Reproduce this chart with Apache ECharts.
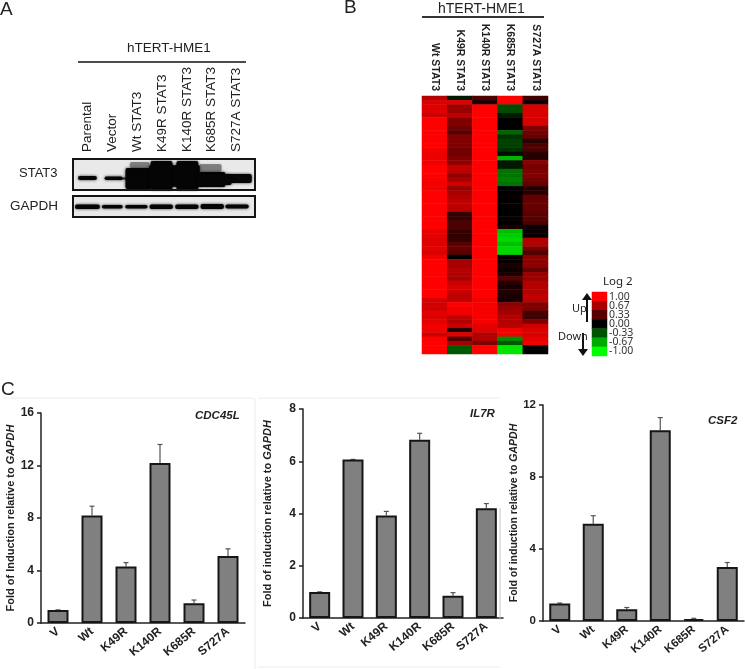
<!DOCTYPE html>
<html><head><meta charset="utf-8">
<style>html,body{margin:0;padding:0;background:#fff}#c{width:745px;height:669px;filter:blur(0.45px)}</style>
<script src="https://cdn.jsdelivr.net/npm/echarts@6/dist/echarts.min.js"></script>
</head><body><div id="c"></div>
<script>
const laneLabels = ['Parental','Vector','Wt STAT3','K49R STAT3','K140R STAT3','K685R STAT3','S727A STAT3'];
// [lane, low, high, half lane spread, density, lane shift]
const stat3Bands = [[0,11,15,.38,1,0],[1,11,14.5,.36,1,.05],[1,11.5,13.5,.2,.8,.5],
 [2,2,23,.52,1,.05],[2,23,29,.4,.4,.1],[3,1,30,.44,1,-.02],[3,4,26,.52,1,0],[4,1,30,.44,1,.02],[4,4,26,.52,1,0],
 [5,4,19,.55,1,0],[5,19,27,.45,.4,-.05],[6,8,17,.56,1,.05],[5.0,6,16,.7,1,.1]];
const gapdhBands = [[0,8,12.5,.5,1,0],[1,8.5,12,.42,1,0],[2,8.5,12,.45,1,-.03],[3,8,12.5,.47,1,-.03],[4,8,12.5,.47,1,0],[5,8,13,.47,1,.02],[6,8.5,12.5,.47,1,.02]];

const heatColumns = ['Wt STAT3','K49R STAT3','K140R STAT3','K685R STAT3','S727A STAT3'];
const heatWt = [.7,.87,.87,.87,.8,1,1,1,1,1,1,1,.95,.93,.93,.95,1,1,1,.97,.95,.95,1,1,1,1,1,1,1,1,1,.9,.9,.88,.88,.9,.85,.95,1,1,1,1,1,1,1,1,1,.85,.82,.82,.9,.85,.9,.95,.95,.8,1,1,1,1];
const heatK49 = [-.1,.87,.6,.6,.75,.5,.5,.45,.33,.5,.5,.5,.45,.45,.5,.55,.75,.75,.55,.65,.8,.6,.65,.7,.75,.75,.72,.2,.2,.3,.3,.2,.2,.2,.35,.4,.35,0,.65,.65,.7,.7,.65,.8,.85,.8,.75,.75,1,.95,.95,.75,.7,.8,.15,.9,.3,.65,-.35,-.35];
const heatK140 = [.3,.1,1,1,1,1,1,1,1,1,1,1,1,1,1,1,1,1,1,1,1,1,1,1,1,1,1,1,1,1,1,1,1,1,1,1,1,1,1,1,1,1,1,1,1,1,1,.95,.97,.97,.97,.97,.97,.9,.88,.7,.7,.5,1,1];
const heatK685 = [1,1,-.3,-.3,-.1,0,0,0,-.4,-.2,-.25,-.25,-.2,-.05,-.7,-.1,-.1,-.45,-.45,-.5,-.45,0,0,.03,0,.02,0,0,.03,0,.1,-.75,-.8,-.85,-.75,-.85,-.85,.03,.03,.1,.05,.1,.35,.15,.08,.15,.1,.08,.55,.6,.65,.7,.7,.72,.95,.95,-.55,-.35,-.9,-.9];
const heatS727 = [.25,.05,.85,.85,.85,.85,.85,.5,.45,.4,.15,.3,.3,.15,.15,.55,.45,.5,.5,.45,.4,.15,.15,.4,.4,.4,.4,.35,.35,.3,.05,.03,.03,.7,.7,.5,.3,.55,.55,.55,.4,.6,.6,.7,.7,.7,.75,.75,.5,.5,.25,.25,.5,.8,.85,.85,.9,.95,0,0];
const heatSeries = [heatWt,heatK49,heatK140,heatK685,heatS727];
const legendLabels = ['1.00','0.67','0.33','0.00','-0.33','-0.67','-1.00'];
const legendValues = [1,.67,.33,0,-.33,-.67,-1];

const barCats = ['V','Wt','K49R','K140R','K685R','S727A'];
const cdcValues = [1,8.2,4.3,12.2,1.5,5.1];
const cdcTops   = [1,8.9,4.6,13.6,1.75,5.65];
const il7Values = [1,6.07,3.92,6.82,.85,4.2];
const il7Tops   = [1,6.07,4.08,7.07,.97,4.38];
const csfValues = [.97,5.4,.65,10.6,.1,3];
const csfTops   = [1,5.85,.75,11.3,.15,3.25];

const SANS = '"Liberation Sans", Arial, sans-serif';
const grid = [], xAxis = [], yAxis = [], series = [], graphic = [];

function txt(x,y,s,size,o){graphic.push({type:'text',x,y,z:20,style:Object.assign({text:s,font:`${o&&o.weight||'normal'} ${size}px ${o&&o.family||SANS}`,fill:'#222',textAlign:'left',textVerticalAlign:'middle'},o&&o.style)});}
function line(x1,y1,x2,y2,c,w){graphic.push({type:'line',z:1,shape:{x1,y1,x2,y2},style:{stroke:c,lineWidth:w}});}

function bandItem(params,api){
  const lane=api.value(0), bw=api.size([1,0])[0];
  const a=api.coord([lane,api.value(2)]), b=api.coord([lane,api.value(1)]);
  const cx=a[0]+api.value(5)*bw, half=api.value(3)*bw, d=api.value(4);
  return {type:'rect',shape:{x:cx-half,y:a[1],width:half*2,height:b[1]-a[1],r:2},
    style:{fill:`rgba(5,5,5,${d})`,shadowBlur:3,shadowColor:`rgba(0,0,0,${d*.8})`}};
}
function blot(top,h,ymax,bands,showLabels){
  const i=grid.length;
  grid.push({left:75,top,width:174,height:h});
  xAxis.push({gridIndex:i,type:'category',position:'top',data:laneLabels,axisLine:{show:false},axisTick:{show:false},
    axisLabel:{show:showLabels,rotate:90,interval:0,margin:6,fontFamily:SANS,fontSize:13.5,color:'#222'}});
  yAxis.push({gridIndex:i,type:'value',min:0,max:ymax,show:false,splitLine:{show:false}});
  series.push({type:'custom',xAxisIndex:i,yAxisIndex:i,clip:false,z:3,renderItem:bandItem,data:bands});
}
blot(158,33,33,stat3Bands,true);
blot(196,21,21,gapdhBands,false);
[[73,159,182,31],[73,196,182,21]].forEach(r=>{
  graphic.push({type:'rect',z:0,shape:{x:r[0],y:r[1],width:r[2],height:r[3]},style:{fill:'#e9e9e9'}});
  graphic.push({type:'rect',z:10,shape:{x:r[0],y:r[1],width:r[2],height:r[3]},style:{fill:null,stroke:'#151515',lineWidth:2}});
});

// heatmap
const hi=grid.length;
grid.push({left:422,top:96,width:126,height:258});
const rowIdx=heatWt.map((_,i)=>i);
xAxis.push({gridIndex:hi,type:'category',position:'top',data:heatColumns,axisLine:{show:false},axisTick:{show:false},
  axisLabel:{rotate:90,interval:0,margin:5,fontFamily:SANS,fontWeight:'bold',fontSize:10.5,color:'#222'}});
yAxis.push({gridIndex:hi,type:'category',inverse:true,data:rowIdx,show:false});
const heatData=[];heatSeries.forEach((col,c)=>col.forEach((v,r)=>heatData.push([c,r,v])));
series.push({type:'heatmap',xAxisIndex:hi,yAxisIndex:hi,data:heatData,progressive:0,animation:false});
const heatSeriesIndex=series.length-1;

// colour key
const li=grid.length;
grid.push({left:592,top:292,width:15,height:64});
xAxis.push({gridIndex:li,type:'category',data:['Log 2'],show:false});
yAxis.push({gridIndex:li,type:'category',inverse:true,data:legendLabels,axisLine:{show:false},axisTick:{show:false},position:'right',
  axisLabel:{interval:0,margin:2,fontFamily:'"Noto Sans", sans-serif',fontSize:10.5,color:'#333',padding:[5,0,0,0],lineHeight:10}});
series.push({type:'heatmap',xAxisIndex:li,yAxisIndex:li,data:legendValues.map((v,r)=>[0,r,v])});
const keySeriesIndex=series.length-1;

function errItem(params,api){
  const x=api.coord([api.value(0),api.value(1)]), t=api.coord([api.value(0),api.value(2)]);
  const st={stroke:'#555',lineWidth:1.2,fill:null};
  return {type:'group',children:[
    {type:'line',shape:{x1:x[0],y1:x[1],x2:t[0],y2:t[1]},style:st},
    {type:'line',shape:{x1:t[0]-2.5,y1:t[1],x2:t[0]+2.5,y2:t[1]},style:st}]};
}
function bars(left,top,width,height,max,step,vals,tops,nameGap,nameSize,indWord,labelSize){
  const i=grid.length;
  grid.push({left,top,width,height});
  xAxis.push({gridIndex:i,type:'category',data:barCats,
    axisLine:{lineStyle:{color:'#222',width:1.5}},axisTick:{lineStyle:{color:'#222',width:1.5},length:4},
    axisLabel:{rotate:40,interval:0,margin:7,fontFamily:SANS,fontWeight:'bold',fontSize:labelSize,color:'#222'}});
  yAxis.push({gridIndex:i,type:'value',min:0,max,interval:step,splitLine:{show:false},
    axisLine:{show:true,lineStyle:{color:'#222',width:1.5}},axisTick:{show:true,lineStyle:{color:'#222',width:1.5},length:4},
    axisLabel:{margin:7,fontFamily:SANS,fontWeight:'bold',fontSize:labelSize,color:'#222'},
    name:`{a|Fold of ${indWord} relative to }{b|GAPDH}`,nameLocation:'middle',nameGap,nameRotate:90,
    nameTextStyle:{rich:{a:{fontFamily:SANS,fontWeight:'bold',fontSize:nameSize,color:'#222'},b:{fontFamily:SANS,fontWeight:'bold',fontStyle:'italic',fontSize:nameSize,color:'#222'}}}});
  series.push({type:'custom',xAxisIndex:i,yAxisIndex:i,z:1,renderItem:errItem,data:vals.map((v,k)=>[k,v,tops[k]])});
  series.push({type:'bar',xAxisIndex:i,yAxisIndex:i,z:3,barWidth:21,data:vals,
    itemStyle:{color:'#808080',borderColor:'#161616',borderWidth:2}});
}
bars(41,413,204,210,16,4,cdcValues,cdcTops,25,11,'Induction',12);
bars(303,409,200,209,8,2,il7Values,il7Tops,30,11,'induction',12);
bars(543,405,201,216,12,4,csfValues,csfTops,22,10.5,'induction',11.5);

// annotations
txt(0,10,'A',19); txt(344,8,'B',19); txt(1,390,'C',19);
txt(127,48,'hTERT-HME1',13.5); line(78,62,246,62,'#111',1.5);
txt(438,9,'hTERT-HME1',14); line(422,17,544,17,'#333',2);
txt(19,173,'STAT3',13); txt(10,206,'GAPDH',13.5);
const it={weight:'italic bold'};
txt(195,416,'CDC45L',11.5,it); txt(470,414,'IL7R',11.5,it); txt(708,421,'CSF2',11.5,it);
const ns={family:'"Noto Sans", sans-serif'};
txt(603,282,'Log 2',11.5,ns); txt(572,309,'Up',11,ns); txt(558,337,'Down',11,ns);
line(587,296,587,322,'#111',2); graphic.push({type:'polygon',z:5,shape:{points:[[582,300],[587,293],[592,300]]},style:{fill:'#111'}});
line(583,333,583,352,'#111',2); graphic.push({type:'polygon',z:5,shape:{points:[[578,349],[583,356],[588,349]]},style:{fill:'#111'}});
line(3,398,253,398,'#ececec',1); line(255,398,255,669,'#ececec',1); line(258,398,500,398,'#ececec',1);
line(258,667,500,667,'#ececec',1); line(500,508,500,620,'#c4c4c4',1);

const chart=echarts.init(document.getElementById('c'),null,{renderer:'canvas'});
chart.setOption({animation:false,backgroundColor:'#fff',grid,xAxis,yAxis,series,graphic,
  visualMap:{show:false,type:'continuous',min:-1,max:1,seriesIndex:[heatSeriesIndex,keySeriesIndex],dimension:2,inRange:{color:['#00ff00','#000000','#ff0000']}}});
</script></body></html>
